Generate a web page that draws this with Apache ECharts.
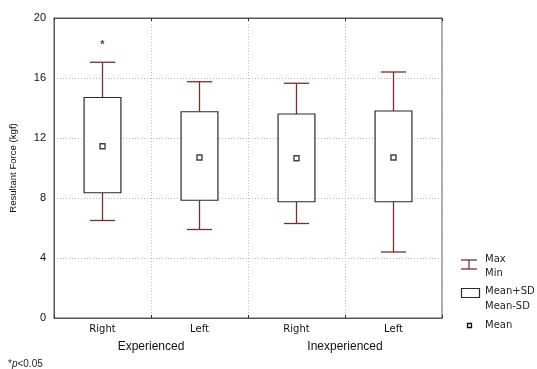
<!DOCTYPE html>
<html><head><meta charset="utf-8">
<script src="https://cdn.jsdelivr.net/npm/echarts@6/dist/echarts.min.js"></script>
<style>html,body{margin:0;padding:0;background:#fff}#c{width:537px;height:369px}</style>
</head><body><div id="c"></div>
<script>
var categories = ['Right', 'Left', 'Right', 'Left'];
var groups = ['Experienced', 'Inexperienced'];
var maxVals = [17.05, 15.75, 15.65, 16.4];
var minVals = [6.5, 5.9, 6.3, 4.4];
var sdUpper = [14.7, 13.75, 13.6, 13.8];
var sdLower = [8.35, 7.85, 7.75, 7.75];
var meanVals = [11.45, 10.7, 10.65, 10.7];
var starVals = [18.2, null, null, null];
var yTicks = { min: 0, max: 20, interval: 4 };

var FONT = 'Liberation Sans, Arial, sans-serif';
var FONT2 = 'DejaVu Sans, Verdana, sans-serif';
var WHISK = '#7a2e2e';
var BOXC = '#2a2a2a';

var boxData = categories.map(function (c, i) {
  return [i, minVals[i], sdLower[i], sdUpper[i], maxVals[i]];
});

function renderBox(params, api) {
  var i = api.value(0);
  var pMin = api.coord([i, api.value(1)]);
  var pLo = api.coord([i, api.value(2)]);
  var pHi = api.coord([i, api.value(3)]);
  var pMax = api.coord([i, api.value(4)]);
  var band = api.size([1, 0])[0];
  var bw = band * 0.38, cw = band * 0.26;
  var x = pMin[0];
  var ls = { stroke: WHISK, lineWidth: 1.3 };
  return {
    type: 'group',
    children: [
      { type: 'line', shape: { x1: x, y1: pMax[1], x2: x, y2: pHi[1] }, style: ls },
      { type: 'line', shape: { x1: x, y1: pLo[1], x2: x, y2: pMin[1] }, style: ls },
      { type: 'line', shape: { x1: x - cw / 2, y1: pMax[1], x2: x + cw / 2, y2: pMax[1] }, style: ls },
      { type: 'line', shape: { x1: x - cw / 2, y1: pMin[1], x2: x + cw / 2, y2: pMin[1] }, style: ls },
      { type: 'rect', shape: { x: x - bw / 2, y: pHi[1], width: bw, height: pLo[1] - pHi[1] },
        style: { fill: '#fff', stroke: BOXC, lineWidth: 1.2 } }
    ]
  };
}

var chart = echarts.init(document.getElementById('c'), null, { renderer: 'canvas' });
chart.setOption({
  animation: false,
  backgroundColor: '#fff',
  textStyle: { fontFamily: FONT },
  grid: { left: 54, right: 95, top: 18, bottom: 51, show: true, borderColor: '#555', borderWidth: 1 },
  title: {
    left: 3, top: 354,
    text: '{a|*}{b|p}{a|<0.05}',
    textStyle: { fontWeight: 'normal', rich: {
      a: { fontSize: 10, fontFamily: FONT, fontWeight: 'normal', color: '#222' },
      b: { fontSize: 10, fontFamily: FONT, fontWeight: 'normal', fontStyle: 'italic', color: '#222' }
    } }
  },
  xAxis: [
    {
      type: 'category', data: categories, position: 'bottom',
      axisLine: { lineStyle: { color: '#555' } },
      axisTick: { show: true, inside: true, length: 3, lineStyle: { color: '#333' } },
      axisLabel: { color: '#111', fontSize: 10, margin: 6, fontFamily: FONT2 },
      splitLine: { show: true, lineStyle: { color: '#bbb', type: [1, 2] } }
    },
    {
      type: 'category', data: groups, position: 'bottom', offset: 19,
      axisLine: { show: false }, axisTick: { show: false },
      axisLabel: { color: '#111', fontSize: 12, margin: 4, fontFamily: FONT },
      splitLine: { show: false }
    },
    {
      type: 'category', data: categories, position: 'top',
      axisLine: { lineStyle: { color: '#555' } },
      axisTick: { show: true, inside: true, length: 3, lineStyle: { color: '#333' } },
      axisLabel: { show: false }, splitLine: { show: false }
    }
  ],
  yAxis: {
    type: 'value', min: yTicks.min, max: yTicks.max, interval: yTicks.interval,
    name: 'Resultant Force (kgf)', nameLocation: 'middle', nameGap: 36, nameRotate: 90,
    nameTextStyle: { fontSize: 9.6, color: '#111', fontFamily: FONT },
    axisLine: { show: true, lineStyle: { color: '#555' } },
    axisTick: { show: false },
    axisLabel: { color: '#111', fontSize: 11, margin: 8, fontFamily: FONT },
    splitLine: { show: true, lineStyle: { color: '#bbb', type: [1, 2] } }
  },
  series: [
    { type: 'custom', name: 'box', xAxisIndex: 0, renderItem: renderBox, data: boxData,
      encode: { x: 0, y: [1, 2, 3, 4] }, z: 3 },
    { type: 'scatter', name: 'Mean', xAxisIndex: 0, data: meanVals, symbol: 'rect', symbolSize: 5,
      itemStyle: { color: '#fff', borderColor: '#111', borderWidth: 1.4 }, z: 4 },
    { type: 'scatter', name: 'star', xAxisIndex: 0, data: starVals, symbolSize: 0,
      label: { show: true, position: 'inside', formatter: '*', fontSize: 11, fontWeight: 'bold', color: '#111', fontFamily: FONT }, z: 4 }
  ],
  graphic: [
    { type: 'line', shape: { x1: 461, y1: 260, x2: 477, y2: 260 }, style: { stroke: WHISK, lineWidth: 1.3 } },
    { type: 'line', shape: { x1: 461, y1: 269, x2: 477, y2: 269 }, style: { stroke: WHISK, lineWidth: 1.3 } },
    { type: 'line', shape: { x1: 469, y1: 260, x2: 469, y2: 269 }, style: { stroke: WHISK, lineWidth: 1.3 } },
    { type: 'text', left: 485, top: 254, style: { text: 'Max', fontSize: 10, fill: '#222', fontFamily: FONT2 } },
    { type: 'text', left: 485, top: 268, style: { text: 'Min', fontSize: 10, fill: '#222', fontFamily: FONT2 } },
    { type: 'rect', shape: { x: 461.5, y: 288.5, width: 18, height: 9 }, style: { fill: '#fff', stroke: BOXC, lineWidth: 1.2 } },
    { type: 'text', left: 485, top: 286, style: { text: 'Mean+SD', fontSize: 10, fill: '#222', fontFamily: FONT2 } },
    { type: 'text', left: 485, top: 301, style: { text: 'Mean-SD', fontSize: 10, fill: '#222', fontFamily: FONT2 } },
    { type: 'rect', shape: { x: 467.5, y: 323.5, width: 4, height: 4 }, style: { fill: '#fff', stroke: '#111', lineWidth: 1.3 } },
    { type: 'text', left: 485, top: 320, style: { text: 'Mean', fontSize: 10, fill: '#222', fontFamily: FONT2 } }
  ]
});
</script></body></html>
